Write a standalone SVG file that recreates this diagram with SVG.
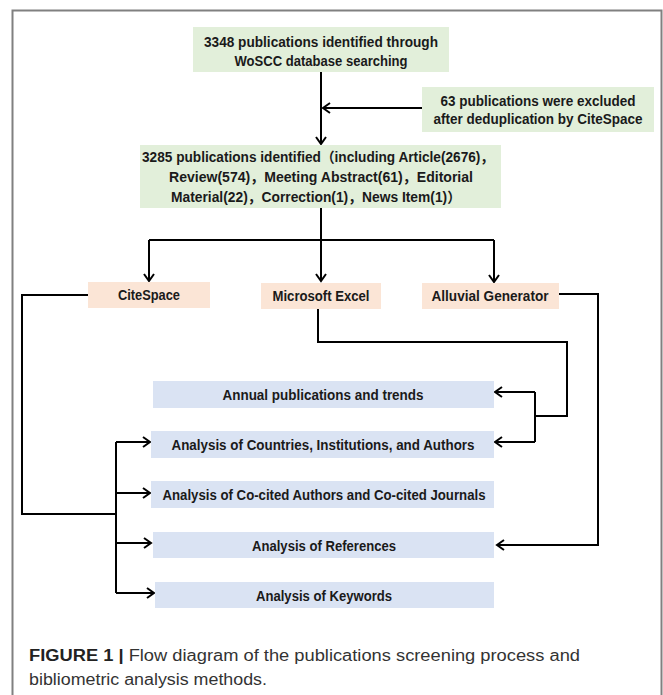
<svg xmlns="http://www.w3.org/2000/svg" width="663" height="695" viewBox="0 0 663 695">
<defs>
<style>
.bx text{font-family:"Liberation Sans Narrow","Liberation Sans","Noto Sans CJK SC",sans-serif;font-weight:bold;font-size:14px;fill:#1a1a1a;text-anchor:middle}
.g{fill:#e2efda}
.o{fill:#fbe5d6}
.b{fill:#dae3f3}
.c{fill:none;stroke:#000;stroke-width:2}
.cap{font-family:"Liberation Sans",Arial,sans-serif;font-size:16px;fill:#333}
</style>
<marker id="ah" markerUnits="userSpaceOnUse" markerWidth="12" markerHeight="14" refX="9" refY="6" orient="auto" viewBox="0 0 12 12">
<path d="M2,1 L9,6 L2,11" fill="none" stroke="#000" stroke-width="2"/>
</marker>
</defs>
<rect width="663" height="695" fill="#fff"/>
<path d="M12.5,695 V10.5 H661.5 V695" fill="none" stroke="#808080" stroke-width="2"/>

<g id="connectors">
<path class="c" d="M321,72 V144" marker-end="url(#ah)"/>
<path class="c" d="M422,108 H323" marker-end="url(#ah)"/>
<path class="c" d="M321,208 V281" marker-end="url(#ah)"/>
<path class="c" d="M149,240 H494"/>
<path class="c" d="M149,240 V281" marker-end="url(#ah)"/>
<path class="c" d="M494,240 V282" marker-end="url(#ah)"/>
<path class="c" d="M88,295 H22 V514 H116"/>
<path class="c" d="M116,442 V593"/>
<path class="c" d="M116,442 H150" marker-end="url(#ah)"/>
<path class="c" d="M116,493 H150" marker-end="url(#ah)"/>
<path class="c" d="M116,543 H151" marker-end="url(#ah)"/>
<path class="c" d="M116,593 H154" marker-end="url(#ah)"/>
<path class="c" d="M318,309 V342 H567 V416 H535"/>
<path class="c" d="M535,392 V442"/>
<path class="c" d="M535,392 H495" marker-end="url(#ah)"/>
<path class="c" d="M535,442 H495" marker-end="url(#ah)"/>
<path class="c" d="M559,294 H598 V545 H497" marker-end="url(#ah)"/>
</g>

<g id="n1" class="bx">
<rect class="g" x="193" y="27" width="256" height="45"/>
<text x="321" y="47" textLength="234" lengthAdjust="spacingAndGlyphs">3348 publications identified through</text>
<text x="321" y="66" textLength="173" lengthAdjust="spacingAndGlyphs">WoSCC database searching</text>
</g>
<g id="n2" class="bx">
<rect class="g" x="422" y="87" width="232" height="45"/>
<text x="538" y="106" textLength="195" lengthAdjust="spacingAndGlyphs">63 publications were excluded</text>
<text x="538" y="124" textLength="209" lengthAdjust="spacingAndGlyphs">after deduplication by CiteSpace</text>
</g>
<g id="n3" class="bx">
<rect class="g" x="140" y="145" width="361" height="63"/>
<text x="318" y="162" textLength="352" lengthAdjust="spacingAndGlyphs">3285 publications identified（including Article(2676)，</text>
<text x="321" y="182" textLength="304" lengthAdjust="spacingAndGlyphs">Review(574)，Meeting Abstract(61)，Editorial</text>
<text x="316" y="202" textLength="290" lengthAdjust="spacingAndGlyphs">Material(22)，Correction(1)，News Item(1)）</text>
</g>
<g id="n4" class="bx">
<rect class="o" x="88" y="282" width="122" height="26"/>
<text x="149" y="300" textLength="62" lengthAdjust="spacingAndGlyphs">CiteSpace</text>
</g>
<g id="n5" class="bx">
<rect class="o" x="261" y="283" width="120" height="26"/>
<text x="321" y="301" textLength="97" lengthAdjust="spacingAndGlyphs">Microsoft Excel</text>
</g>
<g id="n6" class="bx">
<rect class="o" x="422" y="283" width="137" height="26"/>
<text x="490" y="301" textLength="117" lengthAdjust="spacingAndGlyphs">Alluvial Generator</text>
</g>
<g id="n7" class="bx">
<rect class="b" x="153" y="381" width="341" height="27"/>
<text x="323" y="400" textLength="201" lengthAdjust="spacingAndGlyphs">Annual publications and trends</text>
</g>
<g id="n8" class="bx">
<rect class="b" x="151" y="431" width="343" height="27"/>
<text x="323" y="450" textLength="303" lengthAdjust="spacingAndGlyphs">Analysis of Countries, Institutions, and Authors</text>
</g>
<g id="n9" class="bx">
<rect class="b" x="151" y="481" width="343" height="27"/>
<text x="324" y="500" textLength="323" lengthAdjust="spacingAndGlyphs">Analysis of Co-cited Authors and Co-cited Journals</text>
</g>
<g id="n10" class="bx">
<rect class="b" x="153" y="532" width="341" height="26"/>
<text x="324" y="551" textLength="144" lengthAdjust="spacingAndGlyphs">Analysis of References</text>
</g>
<g id="n11" class="bx">
<rect class="b" x="155" y="582" width="339" height="26"/>
<text x="324" y="601" textLength="136" lengthAdjust="spacingAndGlyphs">Analysis of Keywords</text>
</g>

<g id="caption">
<text class="cap" x="29" y="661" textLength="551" lengthAdjust="spacingAndGlyphs"><tspan font-weight="bold" fill="#222">FIGURE 1 |</tspan> Flow diagram of the publications screening process and</text>
<text class="cap" x="29" y="685" textLength="238" lengthAdjust="spacingAndGlyphs">bibliometric analysis methods.</text>
</g>
</svg>
